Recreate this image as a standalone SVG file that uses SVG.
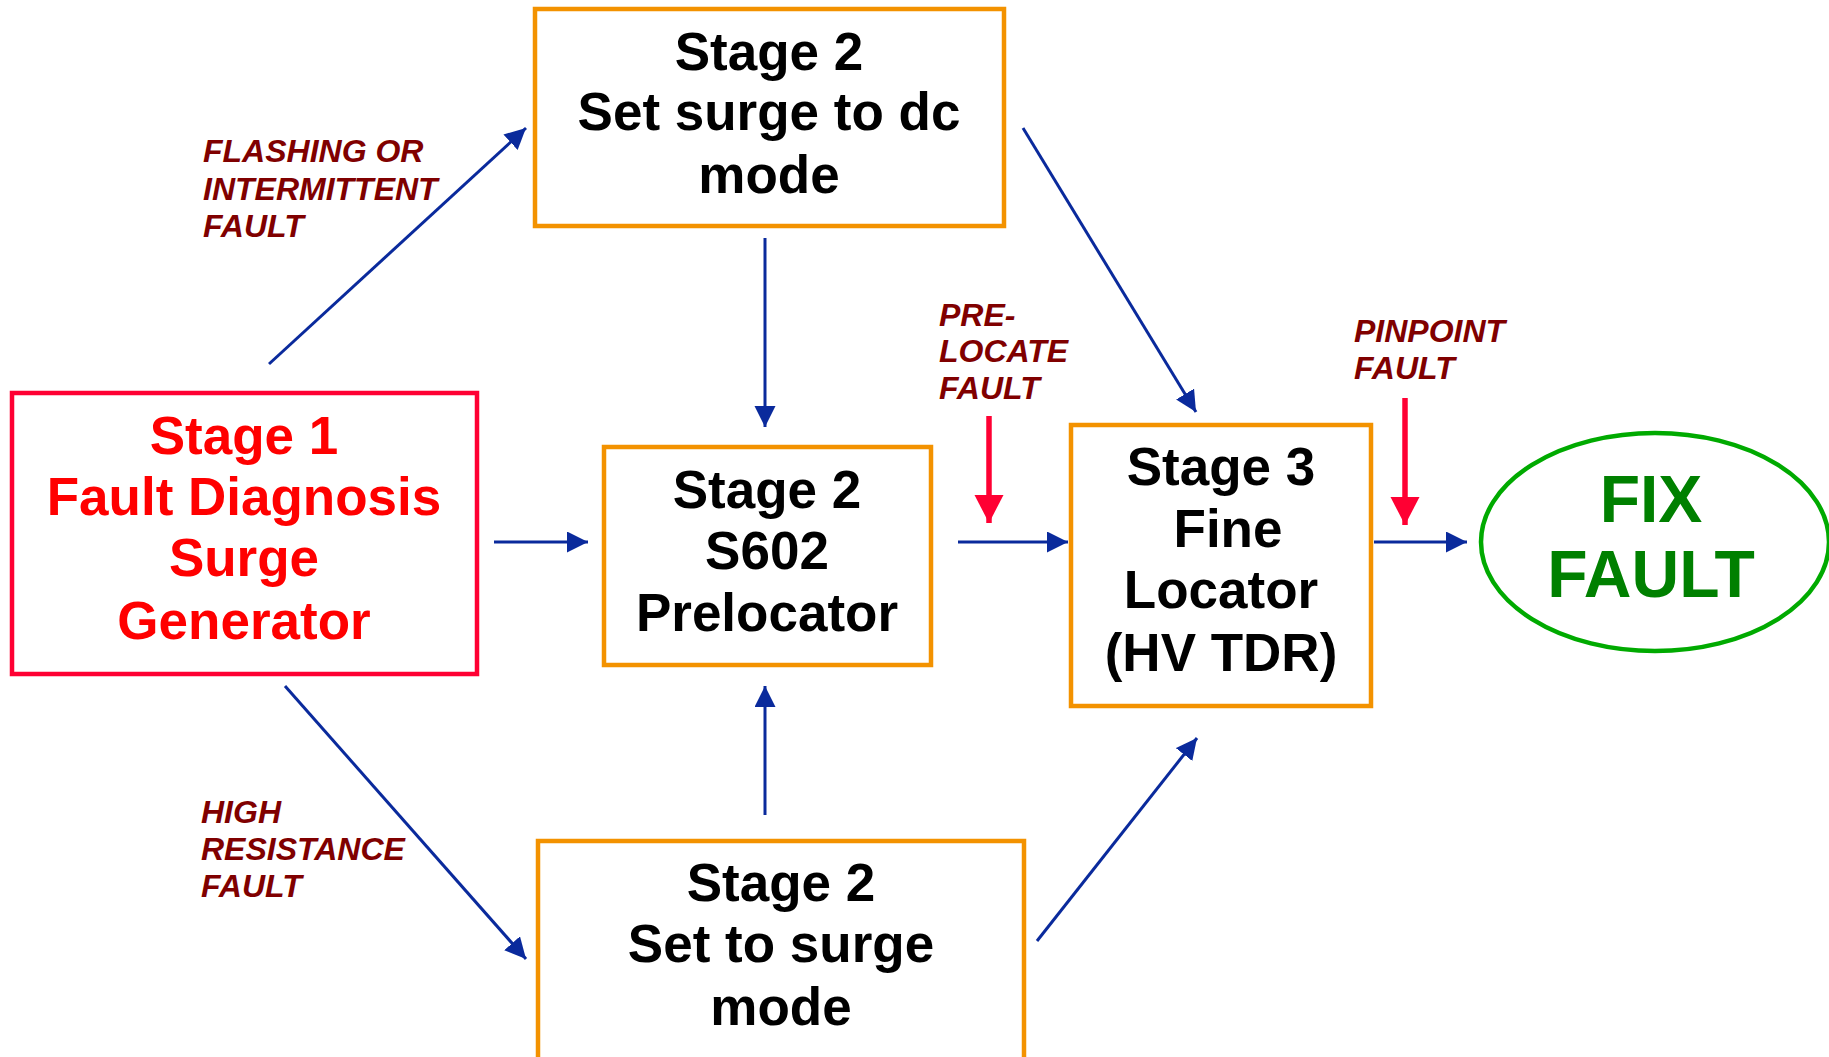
<svg xmlns="http://www.w3.org/2000/svg" width="1829" height="1057" viewBox="0 0 1829 1057">
  <style>
    .box { fill: #ffffff; stroke: #f39200; stroke-width: 4.5; }
    .box1 { fill: #ffffff; stroke: #ff0033; stroke-width: 4.5; }
    .t { font-family: "Liberation Sans", Arial, sans-serif; font-weight: bold; font-size: 53px; text-anchor: middle; fill: #000000; }
    .t1 { fill: #ff0000; }
    .lab { font-family: "Liberation Sans", Arial, sans-serif; font-weight: bold; font-style: italic; font-size: 32px; fill: #800000; }
    .fix { font-family: "Liberation Sans", Arial, sans-serif; font-weight: bold; font-size: 66px; text-anchor: middle; fill: #008000; }
    .blue { stroke: #0a2a9c; stroke-width: 3; fill: none; marker-end: url(#ab); }
    .red { stroke: #ff0033; stroke-width: 5.5; fill: none; marker-end: url(#ar); }
  </style>
  <defs>
    <marker id="ab" markerUnits="userSpaceOnUse" markerWidth="22" markerHeight="22" refX="21" refY="10.5" orient="auto">
      <path d="M0,0 L21,10.5 L0,21 z" fill="#0a2a9c"/>
    </marker>
    <marker id="ar" markerUnits="userSpaceOnUse" markerWidth="30" markerHeight="30" refX="28" refY="14.5" orient="auto">
      <path d="M0,0 L28,14.5 L0,29 z" fill="#ff0033"/>
    </marker>
  </defs>
  <rect width="1829" height="1057" fill="#ffffff"/>

  <g id="connectors">
    <line class="blue" x1="269" y1="364" x2="526" y2="128"/>
    <line class="blue" x1="285" y1="686" x2="526" y2="959"/>
    <line class="blue" x1="494" y1="542" x2="588" y2="542"/>
    <line class="blue" x1="765" y1="238" x2="765" y2="427"/>
    <line class="blue" x1="765" y1="815" x2="765" y2="686"/>
    <line class="blue" x1="1023" y1="128" x2="1196" y2="412"/>
    <line class="blue" x1="1037" y1="941" x2="1197" y2="738"/>
    <line class="blue" x1="958" y1="542" x2="1068" y2="542"/>
    <line class="blue" x1="1374" y1="542" x2="1467" y2="542"/>
    <line class="red" x1="989" y1="416" x2="989" y2="523"/>
    <line class="red" x1="1405" y1="398" x2="1405" y2="525"/>
  </g>

  <g id="labels">
    <text class="lab"><tspan x="203" y="162">FLASHING OR</tspan><tspan x="203" y="200">INTERMITTENT</tspan><tspan x="203" y="237">FAULT</tspan></text>
    <text class="lab"><tspan x="201" y="823">HIGH</tspan><tspan x="201" y="860">RESISTANCE</tspan><tspan x="201" y="897">FAULT</tspan></text>
    <text class="lab"><tspan x="939" y="326">PRE-</tspan><tspan x="939" y="362">LOCATE</tspan><tspan x="939" y="399">FAULT</tspan></text>
    <text class="lab"><tspan x="1354" y="342">PINPOINT</tspan><tspan x="1354" y="379">FAULT</tspan></text>
  </g>

  <g id="stage1">
    <rect class="box1" x="12" y="393" width="465" height="281"/>
    <text class="t t1"><tspan x="244" y="454">Stage 1</tspan><tspan x="244" y="515">Fault Diagnosis</tspan><tspan x="244" y="576">Surge</tspan><tspan x="244" y="639">Generator</tspan></text>
  </g>

  <g id="stage2-dc">
    <rect class="box" x="535" y="9" width="469" height="217"/>
    <text class="t"><tspan x="769" y="70">Stage 2</tspan><tspan x="769" y="130">Set surge to dc</tspan><tspan x="769" y="193">mode</tspan></text>
  </g>

  <g id="stage2-s602">
    <rect class="box" x="604" y="447" width="327" height="218"/>
    <text class="t"><tspan x="767" y="508">Stage 2</tspan><tspan x="767" y="569">S602</tspan><tspan x="767" y="631">Prelocator</tspan></text>
  </g>

  <g id="stage2-surge">
    <rect class="box" x="538" y="841" width="486" height="230"/>
    <text class="t"><tspan x="781" y="901">Stage 2</tspan><tspan x="781" y="962">Set to surge</tspan><tspan x="781" y="1025">mode</tspan></text>
  </g>

  <g id="stage3">
    <rect class="box" x="1071" y="425" width="300" height="281"/>
    <text class="t"><tspan x="1221" y="485">Stage 3</tspan><tspan x="1228" y="547">Fine</tspan><tspan x="1221" y="608">Locator</tspan><tspan x="1221" y="671">(HV TDR)</tspan></text>
  </g>

  <g id="fix-fault">
    <ellipse cx="1655" cy="542" rx="174" ry="109" fill="#ffffff" stroke="#00aa00" stroke-width="4.5"/>
    <text class="fix"><tspan x="1651" y="522">FIX</tspan><tspan x="1651" y="597">FAULT</tspan></text>
  </g>
</svg>
